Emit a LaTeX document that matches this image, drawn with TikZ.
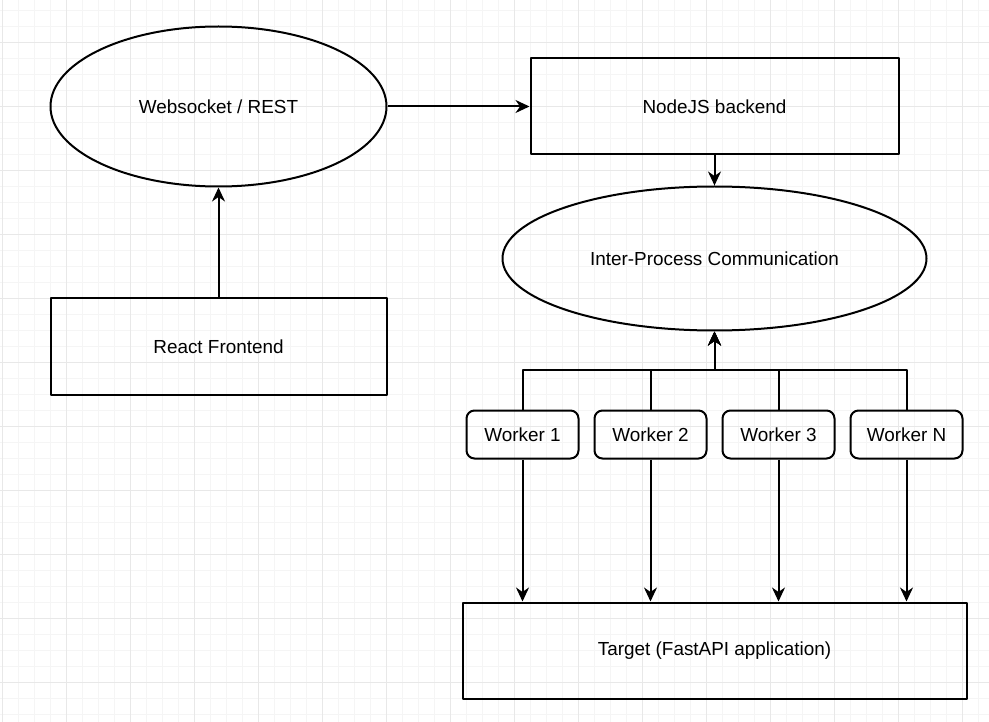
\documentclass[tikz,border=0pt]{standalone}
\usepackage{fontspec}
\setmainfont{Liberation Sans}
\usetikzlibrary{shapes.geometric,arrows.meta}

\tikzset{
    box/.style={draw, line width=2pt, inner sep=0pt, align=center},
    ovalbox/.style={box, ellipse},
    workerbox/.style={box, rounded corners=8pt, minimum width=112pt, minimum height=48pt},
    arr/.style={line width=2pt, -{Stealth[length=14pt,width=13pt,inset=4.5pt]}},
}

\begin{document}
\begin{tikzpicture}[x=1pt,y=-1pt,line join=round,font=\fontsize{18.9}{22}\selectfont]
            \useasboundingbox (0,0) rectangle (989,722);
            % grid
            \foreach \gx in {2.5,18.5,...,989} \draw[color=black!4, line width=1pt] (\gx,0) -- (\gx,722);
            \foreach \gy in {10.5,26.5,...,722} \draw[color=black!4, line width=1pt] (0,\gy) -- (989,\gy);
            \foreach \gx in {2.5,66.5,...,989} \draw[color=black!9, line width=1pt] (\gx,0) -- (\gx,722);
            \foreach \gy in {42.5,106.5,...,722} \draw[color=black!9, line width=1pt] (0,\gy) -- (989,\gy);
    
            \node[ovalbox, minimum width=336pt, minimum height=160pt] (ws) at (218.5,106.5) {Websocket / REST};
            \node[box, minimum width=368pt, minimum height=96pt] (nodejs) at (714.5,106.5) {NodeJS backend};
            \node[ovalbox, minimum width=424pt, minimum height=144pt] (ipc) at (714.5,258.5) {Inter-Process Communication};
            \node[box, minimum width=336pt, minimum height=96pt] (react) at (218.5,346.5) {React Frontend};
    
            \node[workerbox] (w1) at (522.5,434.5) {Worker 1};
            \node[workerbox] (w2) at (650.5,434.5) {Worker 2};
            \node[workerbox] (w3) at (778.5,434.5) {Worker 3};
            \node[workerbox] (wn) at (906.5,434.5) {Worker N};
    
            \node[box, minimum width=504pt, minimum height=96pt] (target) at (714.5,650.5) {Target (FastAPI application)};
    
            \coordinate (bus) at (714.5,370.5);
    
            \draw[arr] (ws.east) -- (nodejs.west);
            \draw[arr] (react.north) -- (ws.south);
            \draw[arr] (nodejs.south) -- (ipc.north);
            \foreach \w in {w1,w2,w3,wn} {
                \draw[arr] (\w.north) |- (bus) -- (ipc.south);
                \draw[arr] (\w.south) -- (\w.south |- target.north);
            }
        \end{tikzpicture}
\end{document}
